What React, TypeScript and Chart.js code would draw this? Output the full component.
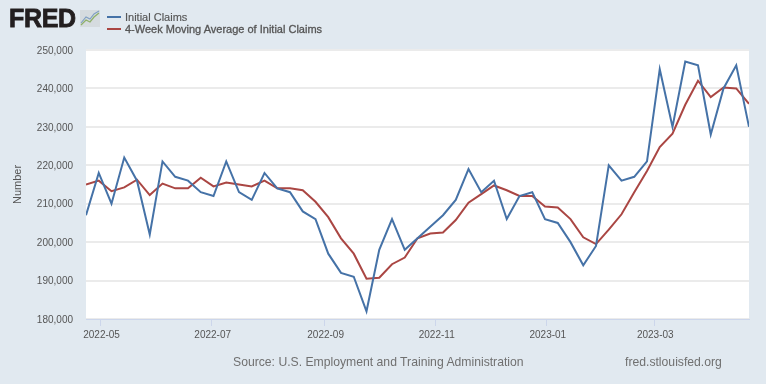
import React, { useEffect, useRef } from "react";
import { Chart, registerables } from "chart.js";

Chart.register(...registerables);

const weeks = [
  "2022-04-23","2022-04-30","2022-05-07","2022-05-14","2022-05-21","2022-05-28","2022-06-04","2022-06-11","2022-06-18","2022-06-25",
  "2022-07-02","2022-07-09","2022-07-16","2022-07-23","2022-07-30","2022-08-06","2022-08-13","2022-08-20","2022-08-27","2022-09-03",
  "2022-09-10","2022-09-17","2022-09-24","2022-10-01","2022-10-08","2022-10-15","2022-10-22","2022-10-29","2022-11-05","2022-11-12",
  "2022-11-19","2022-11-26","2022-12-03","2022-12-10","2022-12-17","2022-12-24","2022-12-31","2023-01-07","2023-01-14","2023-01-21",
  "2023-01-28","2023-02-04","2023-02-11","2023-02-18","2023-02-25","2023-03-04","2023-03-11","2023-03-18","2023-03-25","2023-04-01",
  "2023-04-08","2023-04-15","2023-04-22",
];
const initialClaims = [
  207000,218000,210000,222000,216000,202000,221000,217000,216000,213000,
  212000,221000,213000,211000,218000,214000,213000,208000,206000,197000,
  192000,191000,182000,198000,206000,198000,201000,204000,207000,211000,
  219000,213000,216000,206000,212000,213000,206000,205000,200000,194000,
  199000,220000,216000,217000,221000,245000,230000,247000,246000,228000,
  240000,246000,230000,
];
const movingAverage = [
  215000,216000,213250,214250,216250,212250,215250,214000,214000,216750,
  214500,215500,215000,214500,216000,214000,214000,213500,210500,206500,
  201000,197000,190500,190750,194250,196000,201000,202250,202500,205750,
  210250,212500,214750,213500,212000,212000,209250,209000,206000,201250,
  199500,203250,207250,213000,218500,224750,228250,235750,242000,237750,
  240250,240000,236000,
];
const monthTicks = ["2022-05-01","2022-07-01","2022-09-01","2022-11-01","2023-01-01","2023-03-01"];
const yTicks = [180000,190000,200000,210000,220000,230000,240000,250000];
const seriesNames = ["Initial Claims","4-Week Moving Average of Initial Claims"];
const seriesColors = ["#4572A7","#AA4643"];
const sourceText = "Source: U.S. Employment and Training Administration";
const siteText = "fred.stlouisfed.org";

const toDay = (s: string) => Date.parse(s + "T00:00:00Z") / 86400000;
const dayToMonth = (d: number) => new Date(d * 86400000).toISOString().slice(0, 7);
const FONT = '"Liberation Sans", Arial, sans-serif';

const whitePlot = {
  id: "whitePlot",
  beforeDraw(chart: any) {
    const { ctx, chartArea: a } = chart;
    ctx.save();
    ctx.fillStyle = "#ffffff";
    ctx.fillRect(a.left, a.top, a.right - a.left, a.bottom - a.top);
    ctx.restore();
  },
};

export default function App() {
  const ref = useRef<HTMLCanvasElement>(null);
  useEffect(() => {
    document.body.style.margin = "0";
    const days = weeks.map(toDay);
    const chart = new Chart(ref.current!, {
      type: "line",
      data: {
        datasets: [
          { label: seriesNames[0], data: days.map((x, i) => ({ x, y: initialClaims[i] })), borderColor: seriesColors[0], borderWidth: 2, pointRadius: 0, tension: 0 },
          { label: seriesNames[1], data: days.map((x, i) => ({ x, y: movingAverage[i] })), borderColor: seriesColors[1], borderWidth: 2, pointRadius: 0, tension: 0 },
        ],
      },
      options: {
        animation: false,
        responsive: false,
        layout: { padding: { left: 0, top: 50, right: 17, bottom: 0 } },
        plugins: { legend: { display: false }, tooltip: { enabled: false } },
        scales: {
          x: {
            type: "linear",
            min: days[0],
            max: days[days.length - 1],
            afterBuildTicks: (axis: any) => { axis.ticks = monthTicks.map((m) => ({ value: toDay(m) })); },
            afterFit: (axis: any) => { axis.height = 65; },
            ticks: {
              autoSkip: false,
              maxRotation: 0,
              color: "#555555",
              padding: 3,
              labelOffset: 1,
              font: { family: FONT, size: 10 },
              callback: (v: any) => dayToMonth(Number(v)),
            },
            grid: { drawOnChartArea: false, color: "#ccd6eb", tickLength: 7 },
            border: { color: "#ccd6eb", width: 1 },
          },
          y: {
            min: 180000,
            max: 250000,
            afterBuildTicks: (axis: any) => { axis.ticks = yTicks.map((value) => ({ value })); },
            afterFit: (axis: any) => { axis.width = 86; },
            title: { display: true, text: "Number", color: "#555555", padding: { top: 11, bottom: 0 }, font: { family: FONT, size: 11 } },
            ticks: {
              color: "#555555",
              padding: 13,
              labelOffset: 1,
              font: { family: FONT, size: 10 },
              callback: (v: any) => Number(v).toLocaleString("en-US"),
            },
            grid: { color: "#ebebeb", lineWidth: 2, drawTicks: false },
            border: { display: false },
          },
        },
      },
      plugins: [whitePlot],
    } as any);
    return () => chart.destroy();
  }, []);

  const text: React.CSSProperties = { position: "absolute", fontFamily: FONT, whiteSpace: "nowrap" };
  return (
    <div style={{ position: "relative", width: 766, height: 384, background: "#E1E9F0", overflow: "hidden" }}>
      <canvas ref={ref} width={766} height={384} style={{ position: "absolute", left: 0, top: 0 }} />
      <div style={{ ...text, left: 9, top: 3, fontSize: 25, lineHeight: "30px", fontWeight: 700, color: "#231F20", letterSpacing: -0.3, WebkitTextStroke: "0.8px #231F20" }}>FRED</div>
      <svg width="20" height="17" style={{ position: "absolute", left: 80, top: 10 }}>
        <rect width="20" height="17" fill="#d5dbdf" />
        <polyline points="1,15 6,10 10,12 14,7 19,3" fill="none" stroke="#8fb06a" strokeWidth="1.3" />
        <polyline points="1,13 6,7 10,9 14,4 19,1" fill="none" stroke="#7f9fc2" strokeWidth="1.1" />
      </svg>
      {seriesNames.map((n, i) => (
        <React.Fragment key={n}>
          <div style={{ position: "absolute", left: 107, top: 16 + i * 12, width: 14, height: 1.5, background: seriesColors[i] }} />
          <div style={{ ...text, left: 125, top: 10 + i * 12, fontSize: 11, lineHeight: "14px", fontWeight: 400, color: "#555555", WebkitTextStroke: i === 1 ? "0.3px #555555" : "0.15px #555555" }}>{n}</div>
        </React.Fragment>
      ))}
      <div style={{ ...text, left: 233, top: 354, fontSize: 12.2, lineHeight: "16px", color: "#707070" }}>{sourceText}</div>
      <div style={{ ...text, left: 625, top: 354, fontSize: 12.2, lineHeight: "16px", color: "#707070" }}>{siteText}</div>
    </div>
  );
}
